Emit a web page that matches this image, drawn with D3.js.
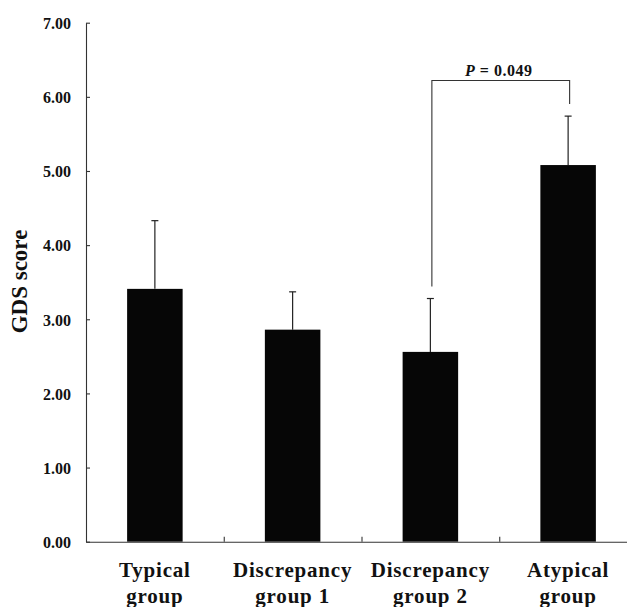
<!DOCTYPE html>
<html>
<head>
<meta charset="utf-8">
<script src="https://cdn.jsdelivr.net/npm/d3@7"></script>
<style>
  body { margin: 0; background: #fff; }
  svg { display: block; font-family: "Liberation Serif", "Times New Roman", serif; }
</style>
</head>
<body>
<svg width="627" height="607"></svg>
<script>
var categories = [["Typical", "group"], ["Discrepancy", "group 1"], ["Discrepancy", "group 2"], ["Atypical", "group"]];
var means = [3.41, 2.86, 2.56, 5.08];
var errors = [0.92, 0.51, 0.72, 0.66];
var yTicks = [0, 1, 2, 3, 4, 5, 6, 7];
var comparison = { from: 2, to: 3, level: 6.22, label: "0.049" };

var svg = d3.select("svg"),
    width = +svg.attr("width"),
    height = +svg.attr("height");

var x = d3.scaleBand()
    .domain(d3.range(categories.length))
    .range([86, 637]);

var xEdge = d3.scaleLinear()
    .domain([0, categories.length])
    .range(x.range());

var y = d3.scaleLinear()
    .domain([0, 7])
    .range([541.7, 22.7]);

var barW = x.bandwidth() * 0.403;
var cx = function(i) { return x(i) + x.bandwidth() / 2; };

// bars
svg.append("g")
    .selectAll("rect")
    .data(means)
    .enter().append("rect")
    .attr("x", function(d, i) { return cx(i) - barW / 2; })
    .attr("y", function(d) { return y(d); })
    .attr("width", barW)
    .attr("height", function(d) { return y(0) - y(d); })
    .attr("fill", "#060606");

// error bars (upper half only)
var eb = svg.append("g").attr("stroke", "#222").attr("stroke-width", 1.2);
means.forEach(function(m, i) {
    eb.append("line")
        .attr("x1", cx(i)).attr("x2", cx(i))
        .attr("y1", y(m)).attr("y2", y(m + errors[i]));
    eb.append("line")
        .attr("x1", cx(i) - 3.5).attr("x2", cx(i) + 3.5)
        .attr("y1", y(m + errors[i])).attr("y2", y(m + errors[i]));
});

// axes
var yAxis = svg.append("g")
    .attr("transform", "translate(86,0)")
    .call(d3.axisLeft(y)
        .tickValues(yTicks)
        .tickFormat(d3.format(".2f"))
        .tickSizeInner(-4)
        .tickSizeOuter(0)
        .tickPadding(15));
yAxis.selectAll("text")
    .attr("font-family", "Liberation Serif")
    .attr("font-size", 16)
    .attr("font-weight", "bold")
    .attr("fill", "#111")
    .attr("dy", "0.36em");

var xAxis = svg.append("g")
    .attr("transform", "translate(0," + y(0) + ")")
    .call(d3.axisBottom(xEdge)
        .tickValues(d3.range(1, categories.length))
        .tickFormat("")
        .tickSizeInner(-5)
        .tickSizeOuter(0));

svg.selectAll(".domain, .tick line").attr("stroke", "#333").attr("stroke-width", 1.1);

// category labels
var labels = svg.append("g")
    .attr("font-size", 21)
    .attr("font-weight", "bold")
    .attr("letter-spacing", "0.8px")
    .attr("text-anchor", "middle")
    .attr("fill", "#111");
categories.forEach(function(c, i) {
    var t = labels.append("text").attr("x", cx(i)).attr("y", 577);
    t.append("tspan").attr("x", cx(i)).text(c[0]);
    t.append("tspan").attr("x", cx(i)).attr("dy", 26).text(c[1]);
});

// y title
svg.append("text")
    .attr("transform", "translate(27,281.5) rotate(-90)")
    .attr("text-anchor", "middle")
    .attr("font-size", 23)
    .attr("font-weight", "bold")
    .attr("fill", "#111")
    .text("GDS score");

// significance bracket
var gap = 12;
var xa = cx(comparison.from) + 1.5, xb = cx(comparison.to) + 1.5;
var ya = y(means[comparison.from] + errors[comparison.from]) - gap;
var yb = y(means[comparison.to] + errors[comparison.to]) - gap;
var yl = y(comparison.level);
svg.append("path")
    .attr("d", "M" + xa + "," + ya + "V" + yl + "H" + xb + "V" + yb)
    .attr("fill", "none")
    .attr("stroke", "#333")
    .attr("stroke-width", 1.1);

var pt = svg.append("text")
    .attr("x", (xa + xb) / 2 - 2)
    .attr("y", yl - 4.5)
    .attr("text-anchor", "middle")
    .attr("font-size", 16)
    .attr("font-weight", "bold")
    .attr("letter-spacing", "0.5px")
    .attr("fill", "#111");
pt.append("tspan").attr("font-style", "italic").text("P");
pt.append("tspan").text(" = " + comparison.label);
</script>
</body>
</html>
